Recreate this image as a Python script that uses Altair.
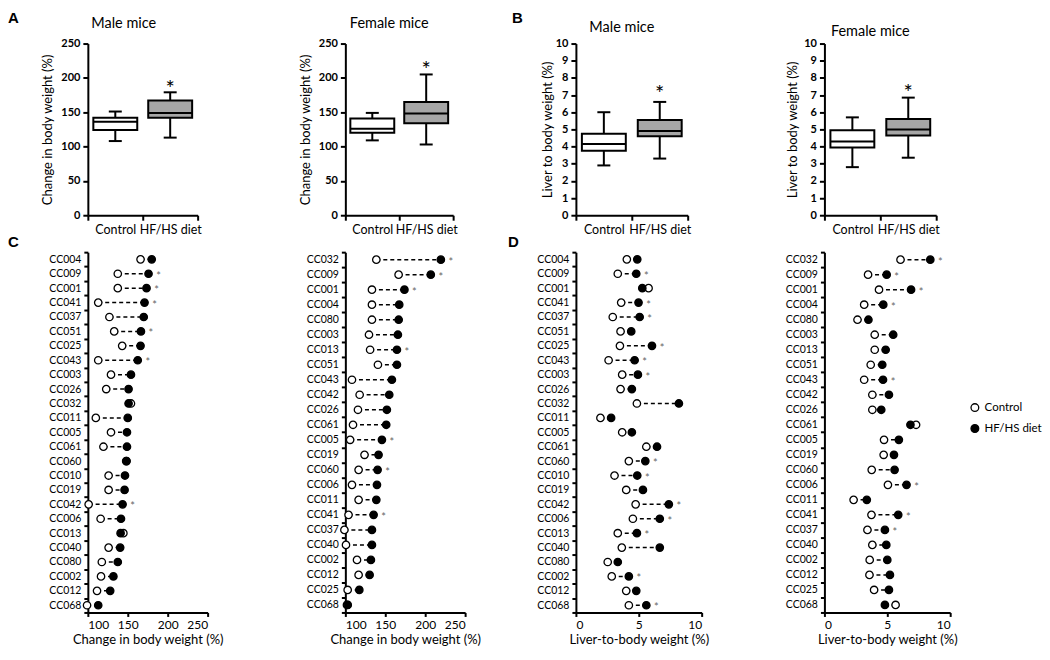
import altair as alt
import pandas as pd

FONT = "Lato"
groups = ["Control", "HF/HS diet"]

# ---------------- Panel A: change in body weight (%) box plots ----------------
a_male_min = [108, 113]
a_male_q1 = [124, 142]
a_male_med = [136, 149]
a_male_q3 = [142, 167]
a_male_max = [151, 179]
a_male_star = 192

a_female_min = [109, 103]
a_female_q1 = [120, 134]
a_female_med = [126, 148]
a_female_q3 = [141, 165]
a_female_max = [149, 205]
a_female_star = 220

# ---------------- Panel B: liver to body weight (%) box plots ----------------
b_male_min = [2.9, 3.3]
b_male_q1 = [3.75, 4.6]
b_male_med = [4.15, 4.9]
b_male_q3 = [4.75, 5.55]
b_male_max = [6.0, 6.6]
b_male_star = 7.4

b_female_min = [2.8, 3.35]
b_female_q1 = [3.95, 4.65]
b_female_med = [4.3, 5.0]
b_female_q3 = [4.95, 5.6]
b_female_max = [5.7, 6.85]
b_female_star = 7.45

# ---------------- Panel C: strain means, change in body weight (%) ----------------
c_male_strains = ["CC004", "CC009", "CC001", "CC041", "CC037", "CC051", "CC025", "CC043",
                  "CC003", "CC026", "CC032", "CC011", "CC005", "CC061", "CC060", "CC010",
                  "CC019", "CC042", "CC006", "CC013", "CC040", "CC080", "CC002", "CC012", "CC068"]
c_male_ctrl = [166, 137.5, 137.5, 113, 127, 133, 143, 113, 129, 123, 154, 110, 129, 119.5,
               148, 126, 126, 101, 116, 144.5, 126, 117.5, 116.5, 111.5, 99]
c_male_hf = [180, 176, 173.5, 171, 170, 166.5, 166, 162.5, 154, 151, 151, 150, 149, 149,
             148.5, 146.5, 146, 143.5, 141.5, 141, 140.5, 137.5, 132, 128, 113]
c_male_sig = ["CC009", "CC001", "CC041", "CC051", "CC043", "CC042"]

c_female_strains = ["CC032", "CC009", "CC001", "CC004", "CC080", "CC003", "CC013", "CC051",
                    "CC043", "CC042", "CC026", "CC061", "CC005", "CC019", "CC060", "CC006",
                    "CC011", "CC041", "CC037", "CC040", "CC002", "CC012", "CC025", "CC068"]
c_female_ctrl = [138.8, 166.7, 133.3, 133.3, 133.3, 129.6, 131, 140.8, 108.3, 117.9, 115.8,
                 109.6, 106, 124, 116.6, 108.3, 116.6, 104, 98.8, 100.8, 114.6, 116.6, 102.9, 102]
c_female_hf = [219.6, 207, 174, 167.5, 166.8, 165.8, 164.6, 164.6, 158.3, 155, 152, 151.2,
               145.8, 141.6, 140.4, 139.6, 138.8, 135.4, 133.3, 133.3, 132, 130.4, 117.5, 103]
c_female_sig = ["CC032", "CC009", "CC001", "CC013", "CC005", "CC060", "CC041"]

# ---------------- Panel D: strain means, liver-to-body weight (%) ----------------
d_male_strains = c_male_strains
d_male_ctrl = [4.05, 3.33, 5.78, 3.6, 2.93, 3.55, 3.5, 2.6, 3.68, 3.55, 4.85, 1.95, 3.68,
               5.6, 4.21, 3.07, 4.0, 4.75, 4.53, 3.33, 3.65, 2.53, 2.85, 4.0, 4.21]
d_male_hf = [4.88, 4.8, 5.28, 4.98, 5.07, 4.4, 6.05, 4.67, 4.93, 4.45, 8.19, 2.8, 4.45,
             6.45, 5.52, 4.88, 5.33, 7.39, 6.67, 4.85, 6.67, 3.33, 4.21, 4.8, 5.6]
d_male_sig = ["CC009", "CC041", "CC037", "CC025", "CC043", "CC003", "CC060", "CC010",
              "CC042", "CC006", "CC013", "CC002", "CC068"]

d_female_strains = c_female_strains
d_female_ctrl = [6.05, 3.47, 4.34, 3.16, 2.63, 4.0, 4.0, 3.68, 3.16, 3.81, 3.81, 7.29, 4.74,
                 4.71, 3.76, 5.05, 2.32, 3.74, 3.42, 3.81, 3.6, 3.58, 3.95, 5.66]
d_female_hf = [8.42, 4.95, 6.89, 4.68, 3.5, 5.47, 4.87, 4.6, 4.66, 5.13, 4.52, 6.84, 5.92,
               5.53, 5.58, 6.53, 3.37, 5.87, 4.81, 4.92, 5.0, 5.21, 5.13, 4.81]
d_female_sig = ["CC032", "CC009", "CC001", "CC004", "CC043", "CC006", "CC041", "CC037"]


def label_layer(text, x, y, size, weight="bold", font="Liberation Sans", align="left", baseline="top"):
    return alt.Chart(pd.DataFrame({"t": [text]})).mark_text(
        font=font, fontSize=size, fontWeight=weight, align=align, baseline=baseline, color="black"
    ).encode(text="t:N", x=alt.value(x), y=alt.value(y))


def box_panel(mins, q1, med, q3, maxs, star, ymax, yvals, ytitle, width, rng, extent, tpad,
              title, tx, ty, letter=None, lx=0, ly=0):
    df = pd.DataFrame({"group": groups, "lo": mins, "q1": q1, "med": med, "q3": q3, "hi": maxs})
    xs = alt.Scale(domain=groups, range=[0, rng], paddingInner=0, paddingOuter=0)
    xax = alt.Axis(labelAngle=0, tickBand="extent", labelFontSize=12.5, labelPadding=3,
                   tickSize=5, tickWidth=2, domainWidth=2, labelFont=FONT)
    X = alt.X("group:N", scale=xs, axis=xax, title=None)
    ys = alt.Scale(domain=[0, ymax], nice=False, zero=True)
    yax = alt.Axis(values=yvals, labelFontWeight="bold", labelFontSize=11, tickSize=5,
                   tickWidth=2, domainWidth=2, titleFontSize=13, titleFontWeight="normal",
                   titlePadding=tpad, minExtent=extent, maxExtent=extent, labelPadding=3)

    def Y(f):
        return alt.Y(f"{f}:Q", scale=ys, axis=yax, title=ytitle)

    base = alt.Chart(df)
    whisk = base.mark_rule(color="black", strokeWidth=2).encode(x=X, y=Y("lo"), y2=alt.Y2("hi"))
    box = base.mark_bar(size=44, stroke="black", strokeWidth=2).encode(
        x=X, y=Y("q1"), y2=alt.Y2("q3"),
        fill=alt.Fill("group:N", scale=alt.Scale(domain=groups, range=["white", "#a6a6a6"]), legend=None))
    medl = base.mark_tick(size=44, thickness=2, color="black", opacity=1).encode(x=X, y=Y("med"))
    caplo = base.mark_tick(size=13, thickness=2, color="black", opacity=1).encode(x=X, y=Y("lo"))
    caphi = base.mark_tick(size=13, thickness=2, color="black", opacity=1).encode(x=X, y=Y("hi"))
    st = alt.Chart(pd.DataFrame({"group": [groups[1]], "s": [star]})).mark_text(
        text="*", fontSize=22, dy=6, color="black", font=FONT).encode(x=X, y=Y("s"))
    layers = [whisk, box, medl, caplo, caphi, st,
              label_layer(title, tx, ty, 14.5, weight="normal", font=FONT, align="center", baseline="middle")]
    if letter:
        layers.append(label_layer(letter, lx, ly, 15))
    return alt.layer(*layers).properties(width=width, height=172)


def dot_panel(strains, ctrl, hf, sig, xdom, xvals, rng, xtitle, width, letter=None, lx=0, ly=0,
              legend=False):
    n = len(strains)
    df = pd.DataFrame({"strain": strains, "ctrl": ctrl, "hf": hf,
                       "sig": [s in sig for s in strains]})
    long = pd.DataFrame({"strain": strains + strains, "value": ctrl + hf,
                         "diet": ["Control"] * n + ["HF/HS diet"] * n})
    ys = alt.Scale(domain=strains, paddingInner=0, paddingOuter=0)
    yax = alt.Axis(tickBand="extent", labelFontSize=10.5, tickSize=4, tickWidth=2, domainWidth=2,
                   labelPadding=3)
    Y = alt.Y("strain:N", scale=ys, axis=yax, title=None)
    xs = alt.Scale(domain=xdom, range=[0, rng], nice=False, zero=False)
    xax = alt.Axis(values=xvals, labelFontSize=12, titleFontSize=13, titleFontWeight="normal",
                   tickSize=4, tickWidth=2, domainWidth=2, titlePadding=3, labelPadding=3)

    def X(f):
        return alt.X(f"{f}:Q", scale=xs, axis=xax, title=xtitle)

    rule = alt.Chart(df).mark_rule(color="black", strokeWidth=1.5, strokeDash=[4, 3]).encode(
        x=X("ctrl"), x2=alt.X2("hf"), y=Y)
    if legend:
        leg = alt.Legend(title=None, orient="none", legendX=145, legendY=150, labelFontSize=11.5,
                         symbolType="circle", symbolSize=60, symbolStrokeColor="black",
                         symbolStrokeWidth=1.3, rowPadding=7, labelOffset=4, padding=0,
                         labelColor="black", labelFont=FONT)
    else:
        leg = None
    pts = alt.Chart(long).mark_point(shape="circle", filled=True, size=55, stroke="black",
                                     strokeWidth=1.3, opacity=1).encode(
        x=X("value"), y=Y,
        fill=alt.Fill("diet:N", scale=alt.Scale(domain=groups, range=["white", "black"]), legend=leg))
    stars = alt.Chart(df).transform_filter("datum.sig").mark_text(
        text="*", fontSize=11, color="#666666", dx=10, dy=3, font=FONT).encode(x=X("hf"), y=Y)
    layers = [rule, pts, stars]
    if letter:
        layers.append(label_layer(letter, lx, ly, 15))
    return alt.layer(*layers).properties(width=width, height=361)


W = [158, 131, 149, 126]

am = box_panel(a_male_min, a_male_q1, a_male_med, a_male_q3, a_male_max, a_male_star, 250,
               [0, 50, 100, 150, 200, 250], "Change in body weight (%)", W[0], 110, 27, 6,
               "Male mice", 36, -20, "A", -80, -33)
af = box_panel(a_female_min, a_female_q1, a_female_med, a_female_q3, a_female_max, a_female_star, 250,
               [0, 50, 100, 150, 200, 250], "Change in body weight (%)", W[1], 108, 27, 6,
               "Female mice", 44, -20)
bm = box_panel(b_male_min, b_male_q1, b_male_med, b_male_q3, b_male_max, b_male_star, 10,
               list(range(0, 11)), "Liver to body weight  (%)", W[2], 112, 18, 3,
               "Male mice", 46, -16, "B", -64, -33)
bf = box_panel(b_female_min, b_female_q1, b_female_med, b_female_q3, b_female_max, b_female_star, 10,
               list(range(0, 11)), "Liver to body weight  (%)", W[3], 112, 18, 7,
               "Female mice", 46, -12)

cm = dot_panel(c_male_strains, c_male_ctrl, c_male_hf, c_male_sig, [100, 250], [100, 150, 200, 250],
               120, "Change in body weight (%)", W[0], "C", -80, -17)
cf = dot_panel(c_female_strains, c_female_ctrl, c_female_hf, c_female_sig, [100, 250],
               [100, 150, 200, 250], 120, "Change in body weight (%)", W[1])
dm = dot_panel(d_male_strains, d_male_ctrl, d_male_hf, d_male_sig, [0, 10], [0, 5, 10],
               126, "Liver-to-body weight  (%)", W[2], "D", -68, -17)
df_ = dot_panel(d_female_strains, d_female_ctrl, d_female_hf, d_female_sig, [0, 10], [0, 5, 10],
                126, "Liver-to-body weight  (%)", W[3], legend=True)

chart = alt.concat(am, af, bm, bf, cm, cf, dm, df_, columns=4,
                   spacing={"row": 37, "column": 100}, bounds="flush").resolve_scale(
    fill="independent"
).properties(
    padding={"left": 0, "top": 2, "right": 0, "bottom": 0}
).configure(font=FONT).configure_view(stroke=None).configure_axis(
    grid=False, domainColor="black", tickColor="black", labelColor="black", titleColor="black",
    labelFont=FONT, titleFont=FONT
)

chart.save("out.html", embed_options={"renderer": "svg", "actions": False})
